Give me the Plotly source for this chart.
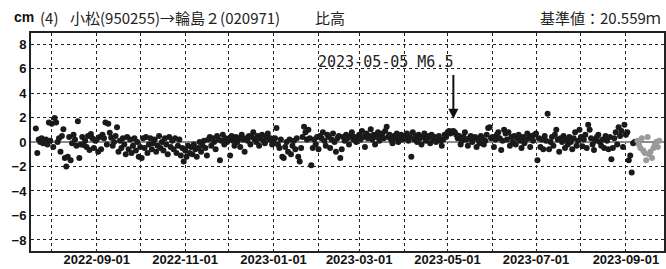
import pandas as pd
import plotly.graph_objects as go

# ---- data (daily values, cm) ----
start_black = "2022-07-21"
v_2022_07 = [1.1, -0.9, 0.2, 0.0, 0.3, -0.1, 0.1, 0.2, -0.2, 1.6, 0.1]
v_2022_08 = [1.5, -0.4, 1.95, 1.6, 0.0, 0.3, -0.8, 0.5, 1.05, -1.3, -2.0, -1.2, 0.4, -1.5, -0.1,
             0.6, 0.2, -0.3, 1.7, -1.3, -0.2, 0.4, -0.25, 0.1, -0.4, 0.5, -0.65, 0.65, 0.3, -0.5, 0.1]
v_2022_09 = [0.2, -0.8, 0.4, -0.6, 0.6, 0.3, 1.6, -0.2, 1.5, 0.75, 0.35, -0.3, 0.0, 0.5, 1.2,
             -0.8, 0.1, -0.5, 0.3, -0.2, -1.0, 0.4, -0.6, 0.2, -0.9, -0.3, 0.3, -0.7, 0.0, -1.2]
v_2022_10 = [-0.4, -1.3, 0.3, -0.5, 0.4, -0.9, -0.2, 0.3, -0.6, -0.1, 0.2, -0.8, -0.3, 0.5, -0.5,
             0.0, -0.7, 0.3, -0.2, -1.0, 0.4, -0.4, 0.1, -0.6, 0.3, -0.9, -0.3, 0.2, -1.1, -0.5, -1.6]
v_2022_11 = [-0.7, -1.2, -0.3, -0.9, -0.4, -1.0, -0.2, -0.6, -1.2, -0.5, 0.0, -0.8, -0.3, 0.1, -0.5,
             -1.1, 0.2, 0.4, -0.3, 0.3, 0.0, -0.6, 0.5, 0.2, -1.5, 0.1, 0.6, -0.2, 0.3, 0.0]
v_2022_12 = [0.2, -1.1, 0.5, 0.1, -0.3, 0.4, 0.0, 0.3, -0.4, 0.6, 0.2, -0.8, 0.3, 0.1, 0.5,
             -0.2, 0.4, 0.8, 0.2, 0.0, 0.5, -0.3, 0.3, 0.6, 0.1, -0.1, 0.4, 0.7, 0.2, 0.3, -0.2]
v_2023_01 = [0.1, 0.3, 1.15, -0.2, -0.5, 0.2, -1.2, -1.3, -0.4, 0.0, -0.8, 0.2, -1.0, -0.3, 0.1,
             -0.6, 0.3, -1.2, -1.6, -0.5, 0.4, 1.25, 0.8, 0.2, 1.0, 0.3, -1.9, -0.5, 0.2, -0.2, 0.4]
v_2023_02 = [-0.6, 0.5, 0.3, 0.8, 0.1, -0.3, 0.6, 0.4, -0.5, 0.2, 0.7, 0.0, -0.8, 0.3, 0.5,
             -1.3, -0.6, 0.4, 0.1, 0.6, 0.3, -0.2, 0.5, 0.8, 0.2, 0.4, 0.0, 0.3]
v_2023_03 = [0.6, 0.2, 0.9, 0.4, -0.4, 0.7, 0.3, 0.5, 1.05, 0.2, 0.6, -0.2, 0.4, 0.8, 0.1,
             0.5, 0.7, 0.3, 0.9, 1.25, 0.4, 0.6, 0.2, -0.1, 0.5, 0.3, 0.7, 0.0, 0.4, 0.6, 0.2]
v_2023_04 = [0.5, 0.3, 0.7, 0.1, 0.4, -1.2, 0.8, 0.2, 0.5, 0.0, 0.6, 0.3, -0.2, 0.4, 0.7,
             0.1, 0.3, 0.5, -0.1, 0.6, 0.2, 0.4, 0.0, 0.3, 0.5, 0.1, -0.3, 0.2, 0.6, 0.4]
v_2023_05 = [0.8, 0.9, 0.7, 0.85, 0.9, 0.8, 0.6, 0.3, 0.5, -0.2, 0.1, 0.4, 0.8, 0.2, -0.3,
             0.3, 0.5, 0.0, 0.3, 0.4, -0.4, 0.2, -0.1, 0.5, 0.3, -0.2, 0.1, 0.6, 1.15, 1.2, 0.3]
v_2023_06 = [0.4, -0.4, 0.2, 0.6, 0.8, 0.3, -0.65, 0.1, 1.0, 0.7, 0.2, 0.8, -0.3, 0.4, 0.0,
             0.5, -0.2, 0.3, 0.6, 0.1, -0.5, 0.4, -0.1, 0.2, 0.7, 0.3, -0.4, 0.5, 0.1, 0.6]
v_2023_07 = [0.7, -1.5, 0.3, -0.4, 0.2, -0.6, 0.5, 0.1, 2.3, -0.6, 0.0, 0.4, -0.3, 0.6, 1.0,
             0.2, -0.8, 0.3, 0.0, 0.5, -0.5, 0.2, -0.2, 0.4, 0.0, -0.6, 0.3, 0.8, -0.3, 0.1, 1.0]
v_2023_08 = [0.4, -0.35, 0.2, 0.6, -0.5, 1.4, 1.0, 0.3, -0.2, -0.65, 0.1, 0.4, 0.6, 0.0, -0.3,
             0.2, -0.5, 0.5, 0.1, -0.6, 0.4, -1.4, -0.5, 0.3, 0.8, -0.2, 1.2, 0.5, 0.9, -0.4, 1.4]
v_2023_09 = [0.6, 0.8, -1.5, -1.1, -2.5, -0.1, 0.0]

start_gray = "2023-09-09"
v_gray = [0.1, -0.2, -0.5, 0.3, -0.7, -0.9, -1.5, 0.4, -1.0, -0.8, -1.3, -0.5, -0.2, 0.0, -0.4, 0.1]

x_range = ["2022-07-17 16:00", "2023-09-27 07:00"]
y_ticks = [-8, -6, -4, -2, 0, 2, 4, 6, 8]
quake_date = "2023-05-05"
quake_label = "2023-05-05 M6.5"

black_vals = (v_2022_07 + v_2022_08 + v_2022_09 + v_2022_10 + v_2022_11 + v_2022_12 +
              v_2023_01 + v_2023_02 + v_2023_03 + v_2023_04 + v_2023_05 + v_2023_06 +
              v_2023_07 + v_2023_08 + v_2023_09)
black_dates = pd.date_range(start_black, periods=len(black_vals), freq="D")
gray_dates = pd.date_range(start_gray, periods=len(v_gray), freq="D")

W, H = 666, 269
L, R, T, B = 31, 2, 33, 18
PW, PH = W - L - R, H - T - B

fig = go.Figure()
fig.add_trace(go.Scatter(x=black_dates, y=black_vals, mode="markers",
                         marker=dict(color="#1a1a1a", size=6), showlegend=False))
fig.add_trace(go.Scatter(x=gray_dates, y=v_gray, mode="markers",
                         marker=dict(color="#9a9a9a", size=6), showlegend=False))

grid = dict(showgrid=True, gridcolor="#222", griddash="dot", gridwidth=1)
fig.update_xaxes(range=x_range, type="date", dtick="M2", tick0="2022-09-01",
                 tickformat="%Y-%m-%d", ticks="", automargin=False, ticklabelstandoff=-5,
                 tickfont=dict(family="Liberation Sans", size=13, color="#111", weight="bold"),
                 showline=True, linecolor="#222", linewidth=2, mirror=True,
                 minor=dict(dtick="M1", tick0="2022-08-01", **grid), zeroline=False, **grid)
fig.update_yaxes(range=[-8.9, 8.9], tickvals=y_ticks, ticks="", automargin=False,
                 tickfont=dict(family="Liberation Sans", size=13, color="#111", weight="bold"),
                 showline=True, linecolor="#222", linewidth=2, mirror=True,
                 zeroline=True, zerolinecolor="#8c8c8c", zerolinewidth=2, **grid)

fig.add_annotation(x=quake_date, y=1.9, ax=quake_date, ay=5.6, axref="x", ayref="y",
                   xref="x", yref="y", text="", showarrow=True, arrowhead=2,
                   arrowsize=1, arrowwidth=2, arrowcolor="#111")
fig.add_annotation(x=quake_date, y=6.5, xref="x", yref="y", text=quake_label,
                   showarrow=False, xanchor="right", yanchor="middle", xshift=2,
                   font=dict(family="DejaVu Sans Mono", size=15, color="#222"))


def top_text(px, txt, anchor="left", font=None):
    fig.add_annotation(x=(px - L) / PW, y=(H - B - 17) / PH, xref="paper", yref="paper",
                       text=txt, showarrow=False, xanchor=anchor, yanchor="middle",
                       font=font or dict(family="Noto Sans CJK JP", size=15, color="#222"))


top_text(12, "<b>cm</b>", font=dict(family="Liberation Sans", size=14, color="#111"))
top_text(38, "(4)")
top_text(68, "小松(950255)→輪島２(020971)")
top_text(313, "比高")
top_text(663, "基準値：20.559ｍ", anchor="right")

fig.update_layout(width=W, height=H, margin=dict(l=L, r=R, t=T, b=B, autoexpand=False),
                  paper_bgcolor="white", plot_bgcolor="white", showlegend=False,
                  hovermode=False)
fig.write_html("out.html", config={"displayModeBar": False, "staticPlot": True},
               post_script="document.body.style.margin='0';document.body.style.overflow='hidden';")
